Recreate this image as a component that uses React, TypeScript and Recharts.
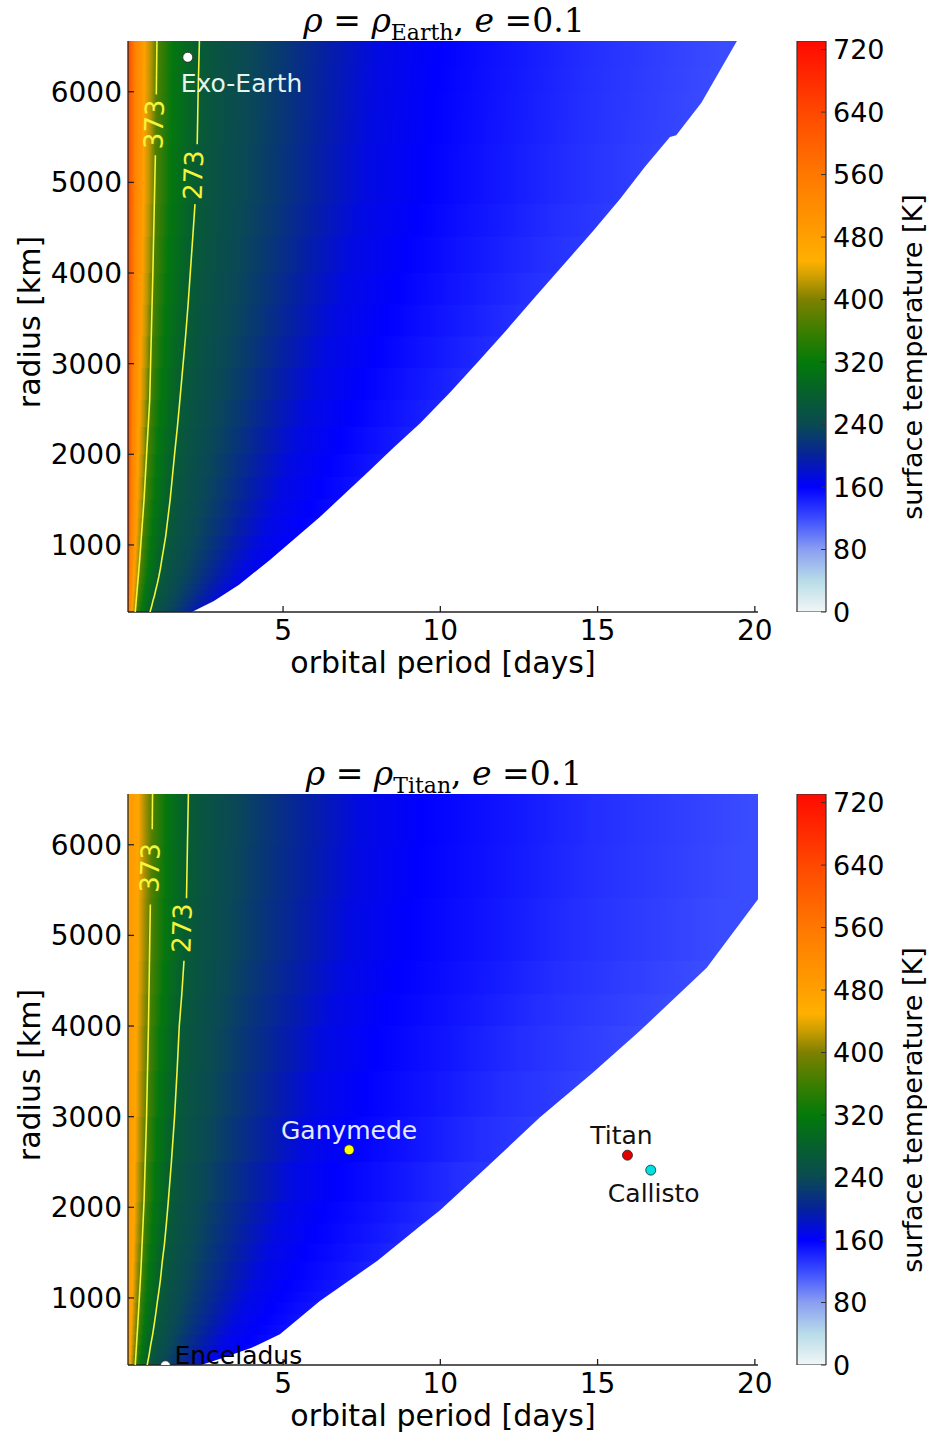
import React from "react";
import { ComposedChart, Area, Scatter, Bar, XAxis, YAxis } from "recharts";

type Pt = [number, number];

const X_MIN = 0.07;
const X_MAX = 20.1;
const R_MIN = 260;
const R_MAX = 6560;
const T_MAX = 731;

const periodTicks = [5, 10, 15, 20];
const radiusTicks = [1000, 2000, 3000, 4000, 5000, 6000];
const tempTicks = [0, 80, 160, 240, 320, 400, 480, 560, 640, 720];

// colour bar, temperature [K] -> colour
const cmapTemp = [0, 40, 80, 120, 160, 200, 240, 280, 320, 360, 400, 430, 450, 480, 560, 640, 731];
const cmapColor = [
  "#f2f6f6", "#b8dce8", "#8a9ef2", "#3a4cff", "#0000ff", "#06229a", "#0a4a52", "#06602c",
  "#037a0a", "#3c7e00", "#7e8000", "#d0a000", "#ffb000", "#ffa000", "#ff7800", "#ff4800", "#ff0a00",
];

// temperature along the top edge of each panel
const earthTopPeriod = [0.07, 0.3, 0.6, 0.8, 0.99, 1.5, 2.33, 3, 4, 5, 6.5, 8, 10, 12, 15, 19];
const earthTopTemp = [640, 540, 480, 420, 373, 315, 273, 255, 238, 222, 195, 172, 160, 150, 135, 120];
const titanTopPeriod = [0.07, 0.15, 0.4, 0.65, 0.84, 1.3, 1.99, 2.6, 3.5, 4.5, 6, 7.5, 9.5, 12, 15, 20];
const titanTopTemp = [450, 490, 470, 410, 373, 315, 273, 255, 238, 220, 195, 172, 160, 150, 136, 120];

// lower edge of the coloured region (period, radius)
const earthEdge: Pt[] = [
  [0.07, 260], [2.1, 260], [2.8, 380], [3.6, 560], [4.58, 835], [6.17, 1308], [7.76, 1824],
  [8.5, 2070], [9.35, 2340], [10.3, 2680], [11.2, 3020], [12.1, 3370], [13, 3730], [14.85, 4460],
  [15.7, 4810], [16.5, 5170], [17.3, 5500], [17.5, 5520], [18.3, 5880], [19.43, 6560], [20.1, 6560],
];
const titanEdge: Pt[] = [
  [0.07, 260], [2.4, 260], [3, 330], [4, 450], [4.9, 600], [6.17, 967], [8, 1410], [9.35, 1790],
  [10, 1970], [11.5, 2450], [13.16, 2990], [14.8, 3470], [16.34, 3945], [18.47, 4642], [20.1, 5400],
];

// contours, split where the label sits
const earth373: Pt[][] = [
  [[0.99, 6560], [0.97, 5970]],
  [[0.94, 5300], [0.86, 4000], [0.76, 2600], [0.58, 1500], [0.44, 830], [0.3, 260]],
];
const earth273: Pt[][] = [
  [[2.34, 6560], [2.32, 6280], [2.3, 6000], [2.285, 5700], [2.27, 5420]],
  [[2.2, 4760], [2.13, 4400], [2.05, 4000], [1.98, 3650], [1.9, 3300], [1.81, 2950], [1.72, 2600],
    [1.64, 2300], [1.55, 2000], [1.48, 1750], [1.41, 1500], [1.34, 1300], [1.27, 1100], [1.2, 950],
    [1.14, 830], [1.1, 740], [1.05, 650], [1.0, 570], [0.95, 500], [0.91, 440], [0.86, 380],
    [0.82, 320], [0.77, 260]],
];
const titan373: Pt[][] = [
  [[0.85, 6560], [0.84, 6170]],
  [[0.78, 5340], [0.72, 4000], [0.66, 3000], [0.58, 2070], [0.48, 1300], [0.38, 700], [0.3, 260]],
];
const titan273: Pt[][] = [
  [[1.99, 6560], [1.96, 6000], [1.93, 5410]],
  [[1.85, 4720], [1.78, 4350], [1.7, 4000], [1.63, 3500], [1.55, 3000], [1.45, 2500], [1.35, 2060],
    [1.29, 1820], [1.23, 1600], [1.16, 1400], [1.1, 1200], [1.05, 1070], [1.0, 950], [0.95, 820],
    [0.9, 700], [0.85, 590], [0.79, 480], [0.74, 370], [0.68, 260]],
];

const earthTags: Pt[] = [[0.9, 5640], [2.15, 5080]];
const titanTags: Pt[] = [[0.77, 5745], [1.79, 5080]];

// bodies (period, radius)
const earthBodies = [{ name: "Exo-Earth", x: 1.97, r: 6380 }];
const titanBodies = [
  { name: "Enceladus", x: 1.26, r: 252 },
  { name: "Ganymede", x: 7.1, r: 2634 },
  { name: "Titan", x: 15.95, r: 2575 },
  { name: "Callisto", x: 16.69, r: 2410 },
];

const FONT = "DejaVu Sans";
const CONTOUR = "#f4f43a";
const AXIS = "#222";

const bodyStyle: Record<string, any> = {
  "Exo-Earth": { fill: "#ffffff", text: "#e4f4ec", dx: -7, dy: 35, anchor: "start" },
  Enceladus: { fill: "#ffffff", text: "#000000", dx: 9, dy: -2, anchor: "start" },
  Ganymede: { fill: "#ffff00", text: "#e4ebff", dx: 0, dy: -11, anchor: "middle" },
  Titan: { fill: "#e00000", text: "#111111", dx: -6, dy: -11, anchor: "middle" },
  Callisto: { fill: "#00e0e0", text: "#111111", dx: 3, dy: 32, anchor: "middle" },
};

function hexRgb(h: string) {
  const n = parseInt(h.slice(1), 16);
  return [(n >> 16) & 255, (n >> 8) & 255, n & 255];
}

function tempColor(t: number) {
  let i = 0;
  while (i < cmapTemp.length - 2 && t > cmapTemp[i + 1]) i++;
  const f = Math.min(1, Math.max(0, (t - cmapTemp[i]) / (cmapTemp[i + 1] - cmapTemp[i])));
  const a = hexRgb(cmapColor[i]);
  const b = hexRgb(cmapColor[i + 1]);
  const c = a.map((v, j) => Math.round(v + (b[j] - v) * f));
  return `rgb(${c[0]},${c[1]},${c[2]})`;
}

const clamp01 = (v: number) => Math.min(1, Math.max(0, v));
const toXY = (seg: Pt[]) => seg.map(([x, r]) => ({ x, r }));

const ContourTag = (p: any) => (
  <text
    x={p.cx}
    y={p.cy}
    transform={`rotate(-88 ${p.cx} ${p.cy})`}
    textAnchor="middle"
    dominantBaseline="central"
    fontFamily={FONT}
    fontSize={26}
    fill={CONTOUR}
  >
    {p.payload.text}
  </text>
);

const BodyShape = (p: any) => {
  const s = bodyStyle[p.payload.name];
  return (
    <g>
      <circle cx={p.cx} cy={p.cy} r={5} fill={s.fill} stroke="#222" strokeWidth={0.8} />
      <text x={p.cx + s.dx} y={p.cy + s.dy} textAnchor={s.anchor} fontFamily={FONT} fontSize={25} fill={s.text}>
        {p.payload.name}
      </text>
    </g>
  );
};

interface PanelProps {
  id: string;
  top: number;
  sub: string;
  edge: Pt[];
  c373: Pt[][];
  c273: Pt[][];
  tags: Pt[];
  topPeriod: number[];
  topTemp: number[];
  bodies: { name: string; x: number; r: number }[];
}

function Panel({ id, top, sub, edge, c373, c273, tags, topPeriod, topTemp, bodies }: PanelProps) {
  const data = toXY(edge);

  // horizontal bands; isotherms shift left following the 273 K contour
  const pts = [...c273[0], ...c273[1]].sort((a, b) => a[1] - b[1]);
  const xTop = pts[pts.length - 1][0];
  const bands = pts.slice(1).map((p, i) => ({
    lo: pts[i][1],
    hi: p[1],
    k: (pts[i][0] + p[0]) / 2 / xTop,
  }));

  const tagData = [
    { x: tags[0][0], r: tags[0][1], text: "373" },
    { x: tags[1][0], r: tags[1][1], text: "273" },
  ];

  const tickStyle = { fontSize: 28, fill: "#000", fontFamily: FONT };

  return (
    <>
      <svg width={927} height={60} style={{ position: "absolute", left: 0, top }}>
        <text x={444} y={32} textAnchor="middle" fontFamily="DejaVu Serif" fontSize={33} fill="#000">
          <tspan fontStyle="italic">ρ</tspan>
          <tspan> = </tspan>
          <tspan fontStyle="italic">ρ</tspan>
          <tspan fontSize={22} dy={8}>{sub}</tspan>
          <tspan dy={-8}>, </tspan>
          <tspan fontStyle="italic">e</tspan>
          <tspan> =0.1</tspan>
        </text>
      </svg>

      <div style={{ position: "absolute", left: 0, top }}>
        <ComposedChart width={780} height={700} data={data} margin={{ top: 41, right: 22, bottom: 28, left: 28 }}>
          <defs>
            {bands.map((b, i) => (
              <linearGradient key={i} id={`${id}-b${i}`} x1="0" y1="0" x2="1" y2="0">
                {topPeriod.map((p, j) => (
                  <stop
                    key={j}
                    offset={clamp01((p * b.k - X_MIN) / (X_MAX - X_MIN))}
                    stopColor={tempColor(topTemp[j])}
                  />
                ))}
              </linearGradient>
            ))}
          </defs>

          {bands.map((b, i) => (
            <Area
              key={`band${i}`}
              type="linear"
              dataKey={() => [b.lo, i === bands.length - 1 ? b.hi : b.hi + 40]}
              fill={`url(#${id}-b${i})`}
              fillOpacity={1}
              stroke="none"
              dot={false}
              activeDot={false}
              isAnimationActive={false}
            />
          ))}

          <Area
            type="linear"
            dataKey="r"
            baseValue={R_MIN}
            fill="#ffffff"
            fillOpacity={1}
            stroke="none"
            dot={false}
            activeDot={false}
            isAnimationActive={false}
          />

          {[...c373, ...c273].map((seg, i) => (
            <Scatter
              key={`c${i}`}
              data={toXY(seg)}
              line={{ stroke: CONTOUR, strokeWidth: 1.6 }}
              shape={() => <g />}
              isAnimationActive={false}
            />
          ))}

          <Scatter data={tagData} shape={ContourTag} isAnimationActive={false} />
          <Scatter data={bodies} shape={BodyShape} isAnimationActive={false} />

          <XAxis
            dataKey="x"
            type="number"
            domain={[X_MIN, X_MAX]}
            allowDataOverflow
            ticks={periodTicks}
            interval={0}
            height={60}
            tickSize={-6}
            tickMargin={14}
            stroke={AXIS}
            strokeWidth={1.3}
            tick={tickStyle}
            label={() => (
              <text x={443} y={673} textAnchor="middle" fontFamily={FONT} fontSize={30} fill="#000">
                orbital period [days]
              </text>
            )}
          />
          <XAxis
            xAxisId="top"
            orientation="top"
            dataKey="x"
            type="number"
            domain={[X_MIN, X_MAX]}
            allowDataOverflow
            ticks={periodTicks}
            interval={0}
            height={0}
            tickSize={-6}
            tickFormatter={() => ""}
            stroke={AXIS}
            strokeWidth={1.3}
          />
          <YAxis
            dataKey="r"
            type="number"
            domain={[R_MIN, R_MAX]}
            allowDataOverflow
            ticks={radiusTicks}
            interval={0}
            width={100}
            tickSize={-6}
            tickMargin={12}
            stroke={AXIS}
            strokeWidth={1.3}
            tick={tickStyle}
            label={() => (
              <text
                x={40}
                y={322}
                transform="rotate(-90 40 322)"
                textAnchor="middle"
                fontFamily={FONT}
                fontSize={30}
                fill="#000"
              >
                radius [km]
              </text>
            )}
          />
          <YAxis
            yAxisId="right"
            orientation="right"
            type="number"
            domain={[R_MIN, R_MAX]}
            allowDataOverflow
            ticks={radiusTicks}
            interval={0}
            width={0}
            tickSize={-6}
            tickFormatter={() => ""}
            stroke={AXIS}
            strokeWidth={1.3}
          />
        </ComposedChart>
      </div>

      <div style={{ position: "absolute", left: 780, top }}>
        <ComposedChart
          width={147}
          height={700}
          data={[{ name: "cb", t: [0, T_MAX] }]}
          margin={{ top: 41, right: 21, bottom: 88, left: 17 }}
          barCategoryGap={0}
        >
          <defs>
            <linearGradient id={`${id}-cbar`} x1="0" y1="1" x2="0" y2="0">
              {cmapTemp.map((t, i) => (
                <stop key={i} offset={t / T_MAX} stopColor={cmapColor[i]} />
              ))}
            </linearGradient>
          </defs>
          <Bar dataKey="t" fill={`url(#${id}-cbar)`} stroke="#333" strokeWidth={1.2} isAnimationActive={false} />
          <XAxis dataKey="name" hide />
          <YAxis
            orientation="right"
            type="number"
            domain={[0, T_MAX]}
            allowDataOverflow
            ticks={tempTicks}
            interval={0}
            width={80}
            tickSize={-5}
            tickMargin={12}
            axisLine={false}
            stroke="#333"
            tick={{ fontSize: 27, fill: "#000", fontFamily: FONT }}
            label={() => (
              <text
                x={142}
                y={357}
                transform="rotate(-90 142 357)"
                textAnchor="middle"
                fontFamily={FONT}
                fontSize={27}
                fill="#000"
              >
                surface temperature [K]
              </text>
            )}
          />
        </ComposedChart>
      </div>
    </>
  );
}

export default function App() {
  return (
    <div style={{ position: "absolute", left: 0, top: 0, width: 927, height: 1434, background: "#fff" }}>
      <Panel
        id="earth"
        top={0}
        sub="Earth"
        edge={earthEdge}
        c373={earth373}
        c273={earth273}
        tags={earthTags}
        topPeriod={earthTopPeriod}
        topTemp={earthTopTemp}
        bodies={earthBodies}
      />
      <Panel
        id="titan"
        top={753}
        sub="Titan"
        edge={titanEdge}
        c373={titan373}
        c273={titan273}
        tags={titanTags}
        topPeriod={titanTopPeriod}
        topTemp={titanTopTemp}
        bodies={titanBodies}
      />
    </div>
  );
}
